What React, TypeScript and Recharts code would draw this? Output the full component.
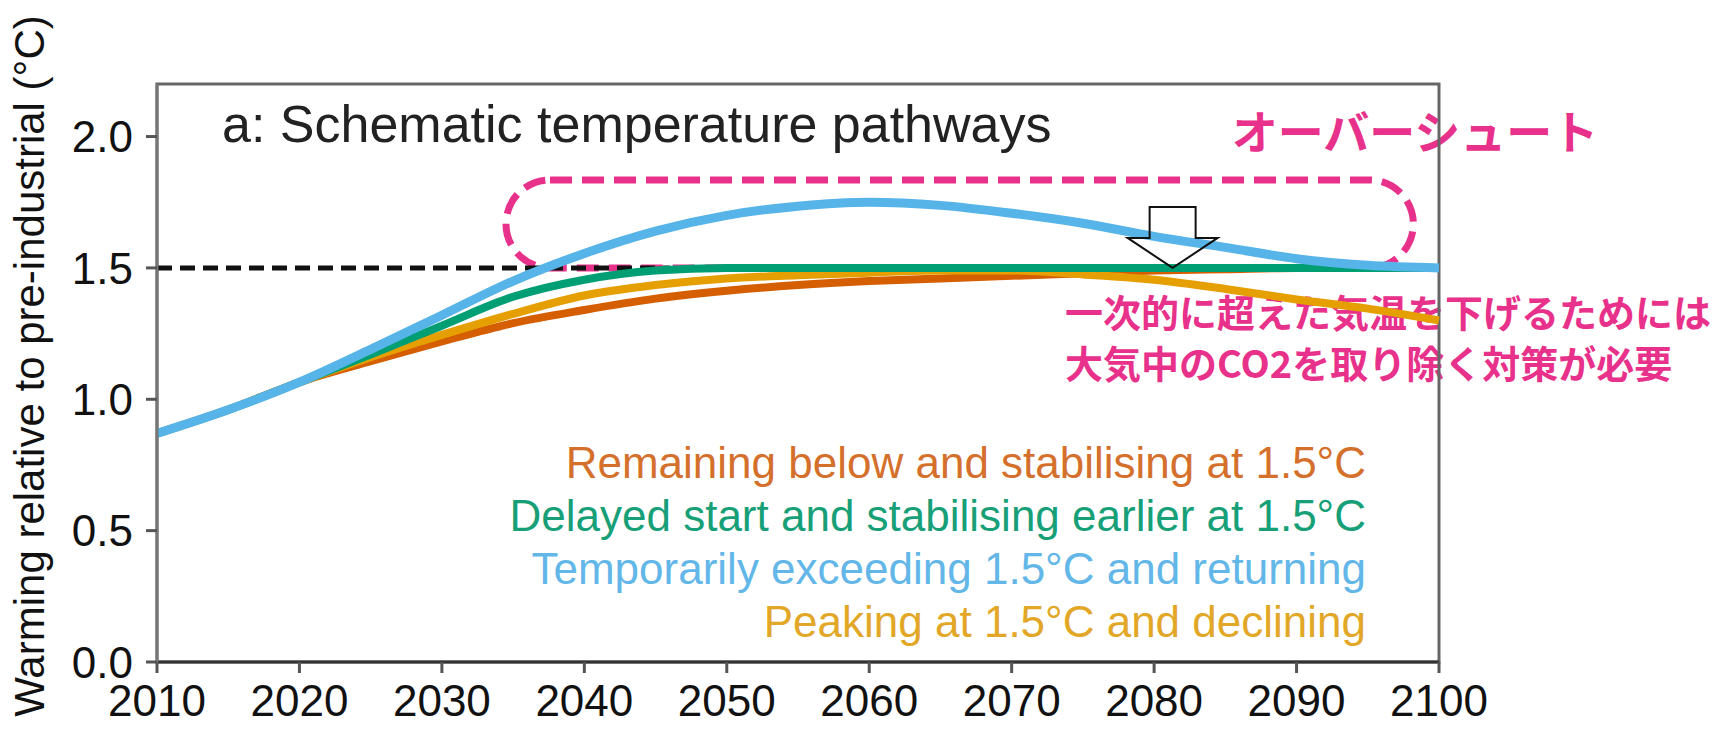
import React from 'react'
import {
  LineChart,
  Line,
  XAxis,
  YAxis,
  ReferenceLine,
  ReferenceArea,
  ReferenceDot,
  Customized,
} from 'recharts'

// values
const years = [2010, 2015, 2020, 2025, 2030, 2035, 2040, 2045, 2050, 2055, 2060, 2065, 2070, 2075, 2080, 2085, 2090, 2095, 2100]
const remainingBelow = [0.87, 0.96, 1.065, 1.145, 1.22, 1.29, 1.34, 1.383, 1.413, 1.435, 1.45, 1.46, 1.47, 1.48, 1.49, 1.495, 1.5, 1.5, 1.5]
const delayedStart = [0.87, 0.96, 1.065, 1.17, 1.28, 1.39, 1.455, 1.49, 1.5, 1.5, 1.5, 1.5, 1.5, 1.5, 1.5, 1.5, 1.5, 1.5, 1.5]
const temporarilyExceeding = [0.87, 0.96, 1.065, 1.19, 1.32, 1.45, 1.555, 1.64, 1.7, 1.735, 1.75, 1.738, 1.708, 1.67, 1.62, 1.578, 1.535, 1.51, 1.5]
const peakingDeclining = [0.87, 0.96, 1.065, 1.16, 1.245, 1.325, 1.395, 1.435, 1.46, 1.472, 1.482, 1.49, 1.49, 1.475, 1.455, 1.42, 1.38, 1.345, 1.3]

const xTicks = [2010, 2020, 2030, 2040, 2050, 2060, 2070, 2080, 2090, 2100]
const yTicks = [0, 0.5, 1.0, 1.5, 2.0]

const legendLines = [
  { text: 'Remaining below and stabilising at 1.5°C', color: '#D4702B' },
  { text: 'Delayed start and stabilising earlier at 1.5°C', color: '#17A077' },
  { text: 'Temporarily exceeding 1.5°C and returning', color: '#62B7E8' },
  { text: 'Peaking at 1.5°C and declining', color: '#E2A727' },
]

const data = years.map((year, i) => ({
  year,
  remaining: remainingBelow[i],
  delayed: delayedStart[i],
  exceeding: temporarilyExceeding[i],
  peaking: peakingDeclining[i],
}))

const PINK = '#E8318A'
const FONT = '"Liberation Sans", Arial, sans-serif'
const JP = '"Noto Sans CJK JP", "Noto Sans", sans-serif'

const Arrow = (props: any) => {
  const { cx, cy } = props
  const pts = [
    [cx, cy],
    [cx - 45, cy - 30],
    [cx - 23, cy - 30],
    [cx - 23, cy - 61],
    [cx + 23, cy - 61],
    [cx + 23, cy - 30],
    [cx + 45, cy - 30],
  ]
  return <polygon points={pts.map(p => p.join(',')).join(' ')} fill="none" stroke="#111" strokeWidth={2} />
}

const PillShape = (props: any) => {
  const { x, y, width, height } = props
  return (
    <rect x={x} y={y} width={width} height={height} rx={height / 2} ry={height / 2}
      fill="none" stroke={PINK} strokeWidth={7} strokeDasharray="22 10" />
  )
}

const Texts = () => (
  <g>
    <text x={222} y={142} fontSize={52} fontFamily={FONT} fill="#222">a: Schematic temperature pathways</text>
    <text transform="translate(44,366) rotate(-90)" textAnchor="middle" fontSize={42} fontFamily={FONT} fill="#111">
      Warming relative to pre-industrial (°C)
    </text>
    {legendLines.map((l, i) => (
      <text key={l.text} x={1366} y={478 + i * 53} textAnchor="end" fontSize={44} fontFamily={FONT} fill={l.color}>
        {l.text}
      </text>
    ))}
    <text x={1415} y={129} textAnchor="middle" dominantBaseline="central" fontSize={46} fontWeight={700} fontFamily={JP} fill={PINK}>
      オーバーシュート
    </text>
    <text x={1065} y={310} dominantBaseline="central" fontSize={38} fontWeight={700} fontFamily={JP} fill={PINK}>
      一次的に超えた気温を下げるためには
    </text>
    <text x={1065} y={361} dominantBaseline="central" fontSize={38} fontWeight={700} fontFamily={JP} fill={PINK}>
      大気中のCO2を取り除く対策が必要
    </text>
  </g>
)

export default function App() {
  return (
    <div style={{ position: 'absolute', left: 0, top: 0, background: '#fff' }}>
      <LineChart width={1725} height={730} data={data} margin={{ top: 84, right: 286, bottom: 0, left: 0 }}>
        <ReferenceArea x1={2010} x2={2100} y1={0} y2={2.2} fill="none" stroke="#666" strokeWidth={3} />
        <XAxis
          dataKey="year"
          type="number"
          domain={[2010, 2100]}
          ticks={xTicks}
          height={68}
          tickSize={11}
          tickMargin={12}
          axisLine={{ stroke: '#333', strokeWidth: 3 }}
          tickLine={{ stroke: '#555', strokeWidth: 3 }}
          tick={{ fontSize: 44, fontFamily: FONT, fill: '#111' }}
          interval={0}
        />
        <YAxis
          type="number"
          domain={[0, 2.2]}
          ticks={yTicks}
          width={157}
          tickSize={11}
          tickMargin={13}
          tickFormatter={(v: number) => v.toFixed(1)}
          axisLine={{ stroke: '#777', strokeWidth: 3 }}
          tickLine={{ stroke: '#555', strokeWidth: 3 }}
          tick={{ fontSize: 44, fontFamily: FONT, fill: '#111' }}
          interval={0}
        />
        <ReferenceLine
          segment={[{ x: 2010, y: 1.5 }, { x: 2046, y: 1.5 }]}
          stroke="#111"
          strokeWidth={5}
          strokeDasharray="15 8"
        />
        <Line dataKey="remaining" type="monotone" stroke="#D55E00" strokeWidth={8} dot={false} isAnimationActive={false} />
        <Line dataKey="peaking" type="monotone" stroke="#E69F00" strokeWidth={8} dot={false} isAnimationActive={false} />
        <Line dataKey="delayed" type="monotone" stroke="#009E73" strokeWidth={8} dot={false} isAnimationActive={false} />
        <Line dataKey="exceeding" type="monotone" stroke="#56B4E9" strokeWidth={9} dot={false} isAnimationActive={false} />
        <ReferenceArea x1={2034.5} x2={2098.2} y1={1.5} y2={1.835} shape={PillShape} />
        <ReferenceDot x={2081.3} y={1.5} r={1} shape={Arrow} />
        <Customized component={Texts} />
      </LineChart>
    </div>
  )
}
